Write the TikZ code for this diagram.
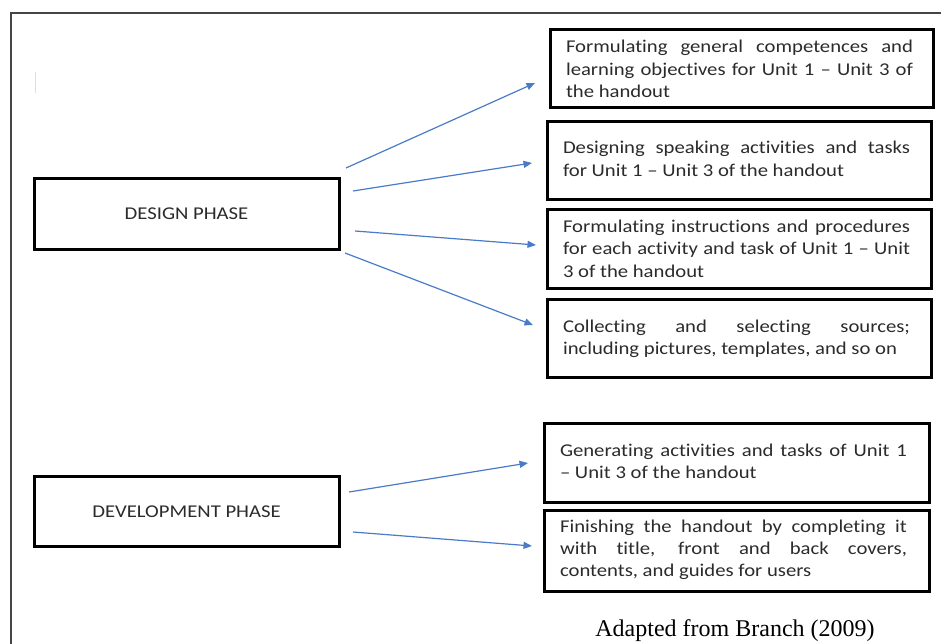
\documentclass[tikz,border=0pt]{standalone}
\usepackage{fontspec}
\setmainfont{Carlito}[FakeStretch=1.15, Ligatures={TeX,NoCommon}]
\newfontfamily\capfont{Liberation Serif}
\usetikzlibrary{arrows.meta}
\definecolor{arrowblue}{HTML}{4A7BC8}
\definecolor{txtgray}{HTML}{2B2B2B}
\definecolor{framegray}{HTML}{454545}
\newlength\tw
\setlength\tw{347pt}
\newcommand\jline[1]{\hbox to \tw{#1}}
\newcommand\lline[1]{\hbox{#1}}
\tikzset{
  rbox/.style={draw=black, line width=3pt, inner sep=0pt, outer sep=0pt, anchor=north west},
  pbox/.style={draw=black, line width=3pt, inner sep=0pt, outer sep=0pt, minimum width=305pt, minimum height=70pt, font=\fontsize{18pt}{22pt}\selectfont, text=txtgray},
  btxt/.style={anchor=base west, inner sep=0pt, outer sep=0pt, text=txtgray, font=\fontsize{18pt}{22.4pt}\selectfont},
  conn/.style={draw=arrowblue, line width=1.2pt, -{Triangle[length=8.5pt,width=7pt]}},
  frame/.style={draw=framegray, line width=2pt},
}
\begin{document}
\begin{tikzpicture}[x=1pt,y=-1pt]
\useasboundingbox (0,0) rectangle (941,644);
% outer frame
\draw[frame] (11,644) -- (11,13) -- (941,13);
\draw[gray!25, line width=1pt] (35,72) -- (35,93);

% phase boxes
\node[pbox] (design) at (186.5,214) {DESIGN PHASE};
\node[pbox] (devel) at (186.5,511.5) {DEVELOPMENT PHASE};

% right boxes
\node[rbox, minimum width=383pt, minimum height=78pt] (b1) at (550,30) {};
\node[rbox, minimum width=384pt, minimum height=78pt] (b2) at (547,122) {};
\node[rbox, minimum width=384pt, minimum height=78pt] (b3) at (547,210) {};
\node[rbox, minimum width=384pt, minimum height=78pt] (b4) at (547,299) {};
\node[rbox, minimum width=385pt, minimum height=79pt] (b5) at (544,423) {};
\node[rbox, minimum width=385pt, minimum height=81pt] (b6) at (544,510) {};

% box texts
\node[btxt] (t1) at (566,53) {\vtop{\baselineskip=22.4pt
  \jline{Formulating general competences and}
  \jline{learning objectives for Unit 1 \textendash{} Unit 3 of}
  \lline{the handout}}};
\node[btxt] (t2) at (563,154) {\vtop{\baselineskip=22.4pt
  \jline{Designing speaking activities and tasks}
  \lline{for Unit 1 \textendash{} Unit 3 of the handout}}};
\node[btxt] (t3) at (563,232.5) {\vtop{\baselineskip=22.4pt
  \jline{Formulating instructions and procedures}
  \jline{for each activity and task of Unit 1 \textendash{} Unit}
  \lline{3 of the handout}}};
\node[btxt] (t4) at (563,332) {\vtop{\baselineskip=22.4pt
  \jline{Collecting and selecting sources;}
  \lline{including pictures, templates, and so on}}};
\node[btxt] (t5) at (560,456.5) {\vtop{\baselineskip=22.4pt
  \jline{Generating activities and tasks of Unit 1}
  \lline{\textendash{} Unit 3 of the handout}}};
\node[btxt] (t6) at (560,532) {\vtop{\baselineskip=22.4pt
  \jline{Finishing the handout by completing it}
  \jline{with title, front and back covers,}
  \lline{contents, and guides for users}}};

% caption
\node[anchor=base, inner sep=0pt, font=\capfont\fontsize{24pt}{28pt}\selectfont] (cap) at (735,636) {Adapted from Branch (2009)};

% arrow end points
\coordinate (s1) at (346,168); \coordinate (e1) at (535,83);
\coordinate (s2) at (353,191); \coordinate (e2) at (532,163);
\coordinate (s3) at (355,231); \coordinate (e3) at (536,245);
\coordinate (s4) at (345,253); \coordinate (e4) at (533,325);
\coordinate (s5) at (349,492); \coordinate (e5) at (528,463);
\coordinate (s6) at (353,532); \coordinate (e6) at (532,546);

\draw[conn] (s1) -- (e1);
\draw[conn] (s2) -- (e2);
\draw[conn] (s3) -- (e3);
\draw[conn] (s4) -- (e4);
\draw[conn] (s5) -- (e5);
\draw[conn] (s6) -- (e6);
\end{tikzpicture}
\end{document}
